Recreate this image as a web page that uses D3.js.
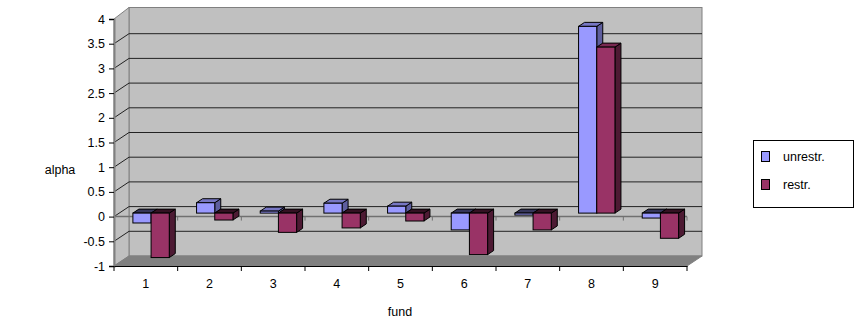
<!DOCTYPE html>
<html>
<head>
<meta charset="utf-8">
<script src="https://cdn.jsdelivr.net/npm/d3@7/dist/d3.min.js"></script>
<style>
  html, body { margin: 0; padding: 0; background: #fff; }
  svg { display: block; }
  text { font-family: "Liberation Sans", Arial, sans-serif; font-size: 12.5px; fill: #000; }
</style>
</head>
<body>
<svg id="chart" width="855" height="325"></svg>
<script>
const categories = ["1", "2", "3", "4", "5", "6", "7", "8", "9"];
const seriesNames = ["unrestr.", "restr."];
const unrestr = [-0.20, 0.21, 0.04, 0.20, 0.14, -0.34, -0.04, 3.78, -0.10];
const restr   = [-0.90, -0.14, -0.39, -0.30, -0.16, -0.84, -0.34, 3.36, -0.51];
const yTicks = [-1, -0.5, 0, 0.5, 1, 1.5, 2, 2.5, 3, 3.5, 4];

const seriesValues = [unrestr, restr];
const faceColors = [
  { front: "#9999FF", top: "#7777C4", side: "#5E5E9E", topNeg: "#35355A" },
  { front: "#993366", top: "#7A2952", side: "#4D1A33", topNeg: "#331122" }
];
const FONT = '"Liberation Sans", Arial, sans-serif';
const FS = "12.5px";

const svg = d3.select("#chart");

// Front plane geometry
const x0 = 114, x1 = 687;
const DX = 15, DY = -10; // depth offset front -> back

const y = d3.scaleLinear().domain([-1, 4]).range([266, 19]);
const x = d3.scaleBand().domain(categories).range([x0, x1]).paddingInner(0).paddingOuter(0);
const sub = d3.scaleBand().domain(seriesNames).range([0, x.bandwidth()]).paddingInner(0).paddingOuter(0.75);

const pts = a => a.map(p => p.join(",")).join(" ");

// Back wall
svg.append("rect")
  .attr("x", x0 + DX).attr("y", y(4) + DY - 1.5)
  .attr("width", x1 - x0).attr("height", y(-1) - y(4) + 1.5)
  .attr("fill", "#C0C0C0").attr("stroke", "#808080").attr("stroke-width", 1);

// Left wall
svg.append("polygon")
  .attr("points", pts([[x0, y(4)], [x0 + DX, y(4) + DY - 1.5], [x0 + DX, y(-1) + DY], [x0, y(-1)]]))
  .attr("fill", "#C0C0C0").attr("stroke", "#808080").attr("stroke-width", 1);

// Floor
svg.append("polygon")
  .attr("points", pts([[x0, y(-1)], [x1, y(-1)], [x1 + DX, y(-1) + DY], [x0 + DX, y(-1) + DY]]))
  .attr("fill", "#808080").attr("stroke", "#808080").attr("stroke-width", 1);

// Gridlines on back wall and left wall
const grid = svg.append("g");
yTicks.filter(t => t > -1 && t < 4).forEach(t => {
  grid.append("line")
    .attr("x1", x0 + DX).attr("x2", x1 + DX)
    .attr("y1", y(t) + DY).attr("y2", y(t) + DY)
    .attr("stroke", "#222").attr("stroke-width", 1);
});
yTicks.filter(t => t > -1 && t < 4).forEach(t => {
  grid.append("line")
    .attr("x1", x0).attr("x2", x0 + DX)
    .attr("y1", y(t)).attr("y2", y(t) + DY)
    .attr("stroke", "#222").attr("stroke-width", 1);
});

// Zero line at front with category ticks
svg.append("line")
  .attr("x1", x0).attr("x2", x1).attr("y1", y(0)).attr("y2", y(0))
  .attr("stroke", "#707070").attr("stroke-width", 1.5);
categories.forEach((c, i) => {
  const xx = x(c) + x.bandwidth();
  svg.append("line")
    .attr("x1", xx).attr("x2", xx).attr("y1", y(0)).attr("y2", y(0) + 4)
    .attr("stroke", "#707070").attr("stroke-width", 1);
});

// Bars
const fz = 0.35, dz = 0.4;
const bx = DX * fz, by = DY * fz;
const ddx = DX * dz, ddy = DY * dz;
const bars = svg.append("g");
categories.forEach((c, i) => {
  seriesNames.forEach((s, k) => {
    const v = seriesValues[k][i];
    const col = faceColors[k];
    const l = x(c) + sub(s) + bx;
    const r = l + sub.bandwidth();
    const yt = y(Math.max(v, 0)) + by;
    const yb = y(Math.min(v, 0)) + by;
    bars.append("polygon")
      .attr("points", pts([[r, yt], [r + ddx, yt + ddy], [r + ddx, yb + ddy], [r, yb]]))
      .attr("fill", col.side).attr("stroke", "#000").attr("stroke-width", 1).attr("stroke-linejoin", "round");
    bars.append("polygon")
      .attr("points", pts([[l, yt], [r, yt], [r + ddx, yt + ddy], [l + ddx, yt + ddy]]))
      .attr("fill", v >= 0 ? col.top : col.topNeg).attr("stroke", "#000").attr("stroke-width", 1).attr("stroke-linejoin", "round");
    bars.append("rect")
      .attr("x", l).attr("y", yt).attr("width", r - l).attr("height", Math.max(yb - yt, 0.5))
      .attr("fill", col.front).attr("stroke", "#000").attr("stroke-width", 1);
  });
});

// Value axis (front left)
const yAxisG = svg.append("g").attr("transform", `translate(${x0},0)`)
  .call(d3.axisLeft(y).tickValues(yTicks).tickSize(5).tickPadding(4).tickFormat(d => String(d)));
yAxisG.select(".domain").attr("stroke", "#808080").attr("stroke-width", 2);
yAxisG.selectAll(".tick line").attr("stroke", "#000");
yAxisG.selectAll("text").style("font-family", FONT).style("font-size", FS).attr("fill", "#000");

// Category axis (front bottom)
const xAxisG = svg.append("g").attr("transform", `translate(0,${y(-1)})`)
  .call(d3.axisBottom(x).tickSize(0).tickPadding(13));
xAxisG.select(".domain").attr("stroke", "#000").attr("stroke-width", 1);
xAxisG.selectAll("text").style("font-family", FONT).style("font-size", FS).attr("fill", "#000");
const bTicks = [x0].concat(categories.map(c => x(c) + x.bandwidth()));
bTicks.forEach(t => {
  svg.append("line").attr("x1", t).attr("x2", t).attr("y1", y(-1)).attr("y2", y(-1) + 5)
    .attr("stroke", "#000").attr("stroke-width", 1);
});

// Axis titles
svg.append("text").attr("x", 60).attr("y", 174).attr("text-anchor", "middle").text("alpha");
svg.append("text").attr("x", 400).attr("y", 316).attr("text-anchor", "middle").text("fund");

// Legend
const lg = svg.append("g");
lg.append("rect").attr("x", 753.5).attr("y", 140.5).attr("width", 100).attr("height", 67)
  .attr("fill", "#fff").attr("stroke", "#000").attr("stroke-width", 1);
seriesNames.forEach((s, k) => {
  const yy = 151 + k * 28;
  lg.append("rect").attr("x", 761.5).attr("y", yy + 0.5).attr("width", 8).attr("height", 10)
    .attr("fill", faceColors[k].front).attr("stroke", "#000").attr("stroke-width", 1);
  lg.append("text").attr("x", 783).attr("y", yy + 9.5).text(s);
});
</script>
</body>
</html>
